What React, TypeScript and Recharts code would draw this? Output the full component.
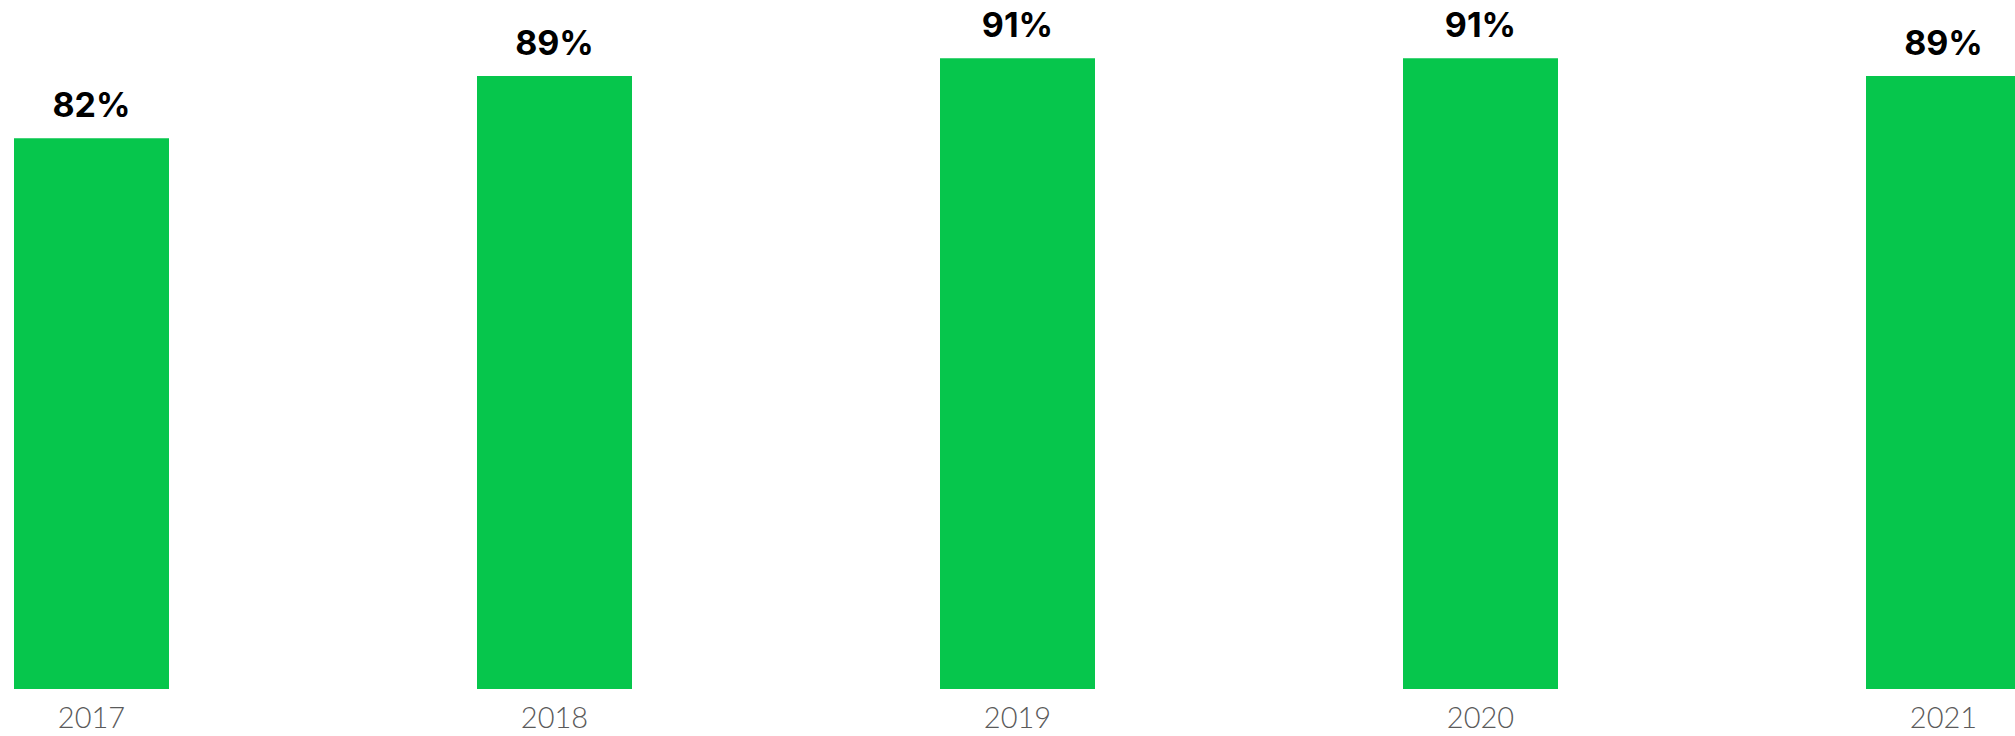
import { Bar, BarChart, LabelList, XAxis, YAxis } from 'recharts'

const years = ['2017', '2018', '2019', '2020', '2021']
const shares = [82, 89, 91, 91, 89]

const chartData = years.map((year, i) => ({ year, share: shares[i] }))

export default function App() {
  return (
    <div
      style={{
        position: 'absolute',
        left: 0,
        top: 0,
        width: 2015,
        height: 736,
        overflow: 'hidden',
        background: '#fff',
      }}
    >
      <BarChart
        width={2315}
        height={736}
        data={chartData}
        margin={{ top: 5, right: 0, left: 0, bottom: 0 }}
        style={{ marginLeft: -140 }}
      >
        <XAxis
          dataKey="year"
          axisLine={false}
          tickLine={false}
          tickSize={0}
          tickMargin={18}
          height={47}
          interval={0}
          tick={{ fill: '#5a5a5a', fontSize: 29, fontWeight: 300, fontFamily: 'Lato, sans-serif' }}
        />
        <YAxis hide domain={[20, 97]} allowDataOverflow />
        <Bar dataKey="share" fill="#06C64C" barSize={155} isAnimationActive={false}>
          <LabelList
            dataKey="share"
            position="top"
            offset={21}
            formatter={(v: number) => `${v}%`}
            style={{ fill: '#000', fontSize: 34, fontWeight: 700, fontFamily: 'Inter, sans-serif' }}
          />
        </Bar>
      </BarChart>
    </div>
  )
}
